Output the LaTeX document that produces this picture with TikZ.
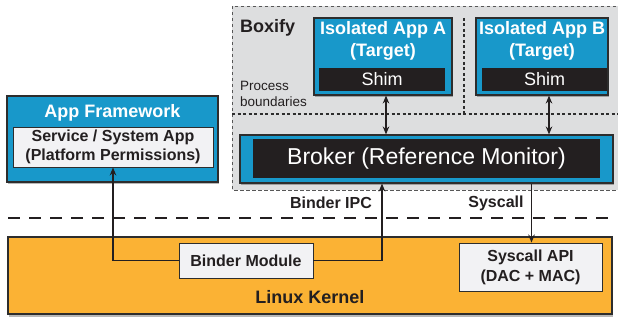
\documentclass[tikz,border=0pt]{standalone}
\usepackage{fontspec}
\setmainfont{Liberation Sans}
\usetikzlibrary{arrows.meta,shadows}
\definecolor{bxblue}{RGB}{24,152,202}
\definecolor{bxorange}{RGB}{251,178,52}
\definecolor{bxgray}{RGB}{221,222,223}
\definecolor{bxwhite}{RGB}{242,242,244}
\definecolor{bxblack}{RGB}{35,31,32}
\definecolor{bxline}{RGB}{45,45,45}
\tikzset{
  shad/.style={drop shadow={shadow xshift=1.2pt,shadow yshift=-2.5pt,fill=black,opacity=0.28}},
  bluebox/.style={draw=bxline,line width=1.1pt,fill=bxblue,minimum width=#1,inner sep=0pt,shad},
  blackbox/.style={fill=bxblack,text=white,inner sep=0pt},
  whitebox/.style={draw=bxline,line width=0.9pt,fill=bxwhite,inner sep=0pt,align=center,text=bxblack},
  conn/.style={draw=bxblack,line width=1.9pt,-{Stealth[length=8pt,width=6.5pt]}},
  biconn/.style={draw=bxblack,line width=1.9pt,{Stealth[length=8pt,width=6.5pt]}-{Stealth[length=8pt,width=6.5pt]}},
  divider/.style={draw=bxline,line width=1.5pt,dash pattern=on 3pt off 2.5pt},
  ttl/.style={font=\fontsize{18}{22}\selectfont\bfseries,align=center,inner sep=0pt},
  lbl/.style={font=\fontsize{16}{19}\selectfont\bfseries,text=bxblack,inner sep=0pt},
}
\begin{document}
\begin{tikzpicture}[x=1pt,y=-1pt]
\useasboundingbox (0,0) rectangle (618,320);
% Boxify region
\draw[draw=bxline!80,line width=0.8pt,dash pattern=on 3.5pt off 2.5pt,fill=bxgray] (232,6) rectangle (630,190);
\node[anchor=west,font=\fontsize{18}{22}\selectfont\bfseries,text=bxblack,inner sep=0pt] (boxify) at (240,28) {Boxify};
\node[anchor=west,font=\fontsize{13.5}{16}\selectfont,text=bxblack,align=left,inner sep=0pt] (procb) at (240,94) {Process\\boundaries};
\coordinate (hd1) at (232,114);
\coordinate (hd2) at (620,114);
\coordinate (vd1) at (464,18);
\coordinate (vd2) at (464,114);
\draw[divider] (hd1) -- (hd2);
\draw[divider] (vd1) -- (vd2);
% Isolated apps
\node[bluebox=138pt,minimum height=77pt] (appA) at (383,56.5) {};
\node[blackbox,minimum width=126pt,minimum height=23pt,font=\fontsize{18}{22}\selectfont] (shimA) at (382,79.5) {Shim};
\node[ttl,text=white] (appAt) at (383,41) {Isolated App A\\(Target)};
\node[bluebox=132pt,minimum height=77pt] (appB) at (542,56.5) {};
\node[blackbox,minimum width=125pt,minimum height=23pt,font=\fontsize{18}{22}\selectfont] (shimB) at (544.5,79.5) {Shim};
\node[ttl,text=white] (appBt) at (542,41) {Isolated App B\\(Target)};
% Broker
\node[bluebox=373pt,minimum height=48pt] (broker) at (426.5,159) {};
\node[blackbox,minimum width=347pt,minimum height=39pt,font=\fontsize{23}{27}\selectfont] (brokerin) at (426.5,158.5) {Broker (Reference Monitor)};
% App framework
\node[bluebox=211pt,minimum height=86pt] (appfw) at (112.5,139) {};
\node[ttl,text=white] (appfwt) at (112.5,113) {App Framework};
\node[whitebox,minimum width=200pt,minimum height=40pt,font=\fontsize{16}{19}\selectfont\bfseries] (svc) at (113,147) {Service / System App\\(Platform Permissions)};
% Separator
\coordinate (sep1) at (8,218);
\coordinate (sep2) at (614,218);
\draw[draw=bxblack,line width=1.8pt,dash pattern=on 12pt off 9pt] (sep1) -- (sep2);
% Kernel
\node[draw=bxline,line width=1.1pt,fill=bxorange,minimum width=604pt,minimum height=77pt,inner sep=0pt,shad] (kernel) at (310,275.5) {};
\node[ttl,text=bxblack] (kernelt) at (310,297) {Linux Kernel};
\node[whitebox,minimum width=134pt,minimum height=35pt,font=\fontsize{16}{19}\selectfont\bfseries] (binder) at (246,260.5) {Binder Module};
\node[whitebox,minimum width=143pt,minimum height=48pt,font=\fontsize{16}{20}\selectfont\bfseries] (sysapi) at (530.5,267) {Syscall API\\(DAC + MAC)};
% Labels
\node[lbl] (ipc) at (331,203) {Binder IPC};
\node[lbl] (sysc) at (496,203) {Syscall};
% Connectors
\draw[biconn] ([xshift=3pt]appA.south) -- ([xshift=3pt]appA.south |- broker.north);
\draw[biconn] ([xshift=7pt]appB.south) -- ([xshift=7pt]appB.south |- broker.north);
\draw[conn] (binder.west) -| (svc.south);
\draw[conn] (binder.east) -| ([xshift=-44.5pt]broker.south);
\draw[conn] ([xshift=1pt]sysapi.north |- broker.south) -- ([xshift=1pt]sysapi.north);
\end{tikzpicture}
\end{document}
